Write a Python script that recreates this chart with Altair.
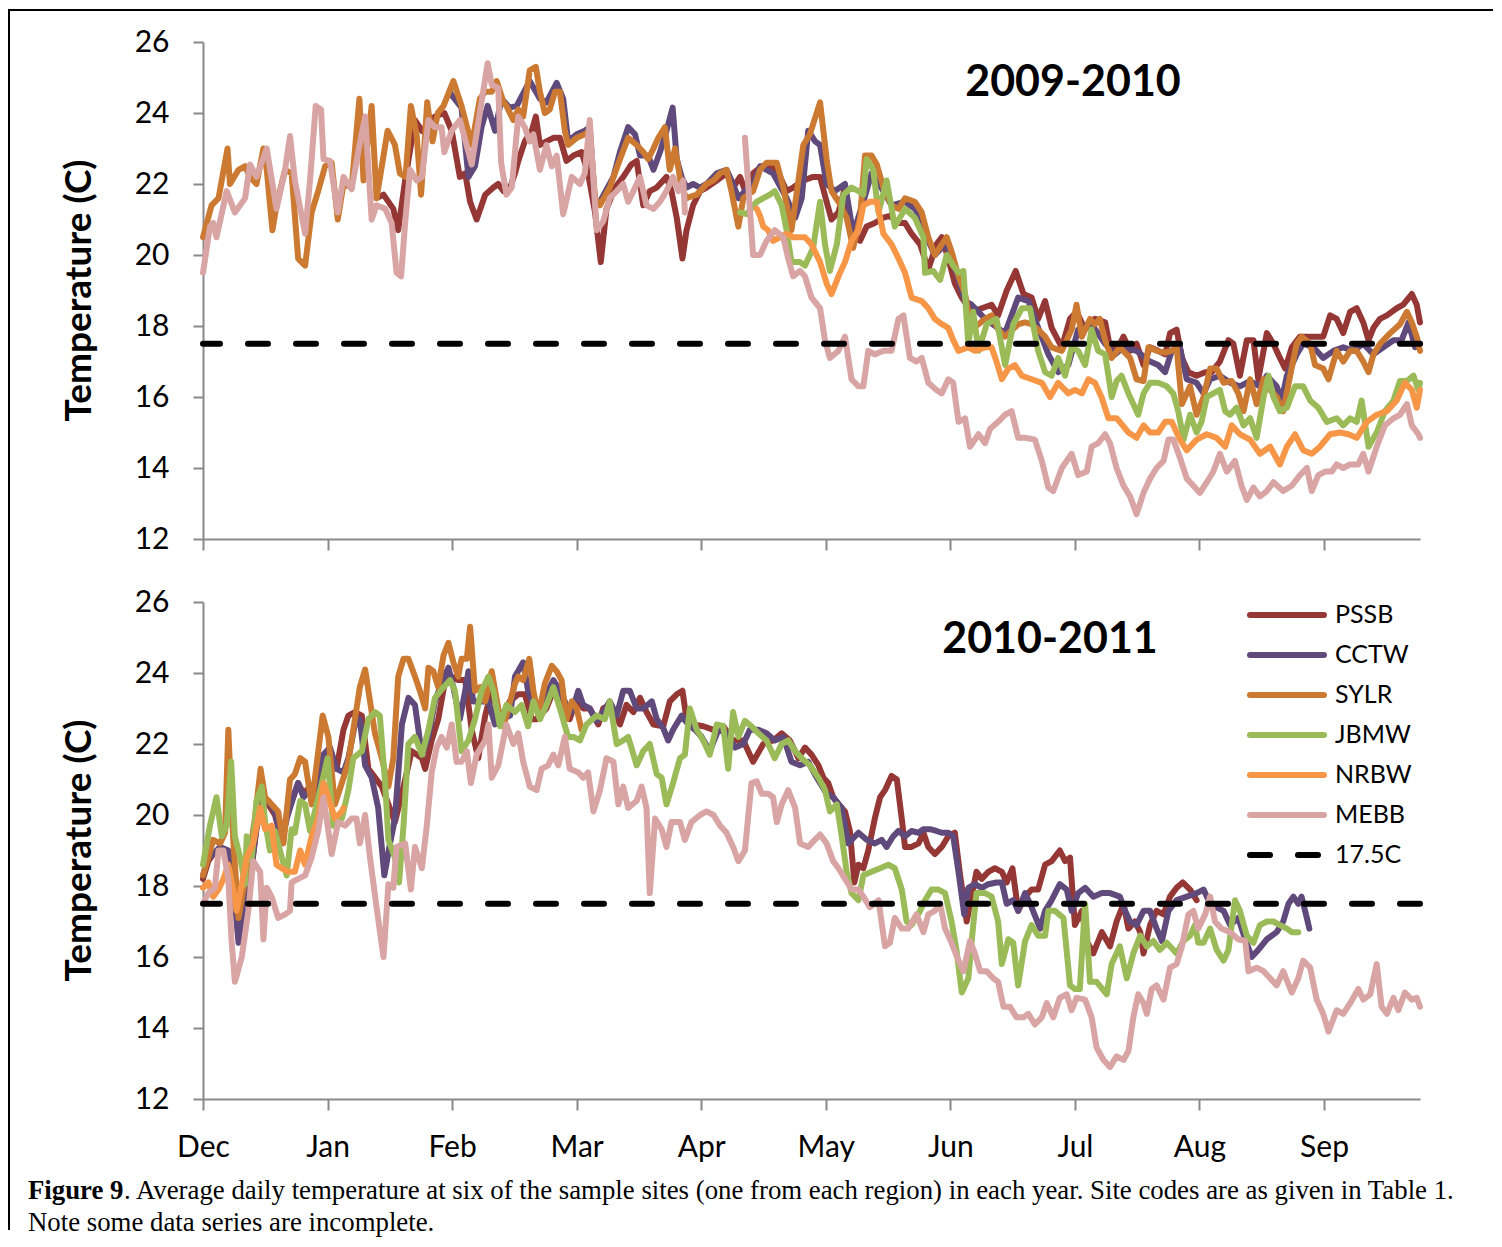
import json
import altair as alt
import pandas as pd

# ---------------- categories / styling lists ----------------
SERIES = ["PSSB", "CCTW", "SYLR", "JBMW", "NRBW", "MEBB", "17.5C"]
COLORS = ["#953735", "#604A7B", "#CC7A32", "#9BBB59", "#F79646", "#D8A5A4", "#000000"]
DASHES = [[1, 0]] * 6 + [[20, 28]]
MONTHS = ["Dec", "Jan", "Feb", "Mar", "Apr", "May", "Jun", "Jul", "Aug", "Sep"]
DAYS_PER_TICK = 30.5
X_MAX = 298
THRESHOLD = 17.5
Y_TICKS = [12, 14, 16, 18, 20, 22, 24, 26]

# ---------------- 2009-2010 (day since 1 Dec, deg C) ----------------
PSSB_09 = [(42.5,21.6),(44.2,21.7),(46.6,21.3),(47.8,20.7),(49.5,22.1),(51.9,23.8),(53.6,23.5),(56.8,23.9),(59.1,24.0),(60.9,23.5),(62.9,22.2),(64.2,22.3),(65.4,21.5),(67.0,21.0),(69.1,21.7),(71.1,21.9),(72.3,22.0),(73.6,21.8),(75.2,21.9),(76.4,22.3),(77.2,22.65),(78.8,23.2),(80.5,23.5),(81.5,23.9),(82.5,23.1),(84.1,23.2),(85.8,23.3),(87.4,23.3),(89.0,22.65),(90.7,22.8),(92.7,22.9),(94.3,22.3),(96.0,21.2),(97.4,19.8),(98.8,21.3),(100.9,21.9),(102.9,22.2),(104.9,22.55),(106.2,22.65),(107.8,21.4),(109.4,21.8),(111.1,21.9),(113.5,22.2),(114.7,21.8),(116.0,21.05),(117.4,19.9),(118.4,20.7),(120.0,21.4),(121.7,21.8),(123.3,21.9),(125.8,22.1),(128.2,22.3),(129.8,21.9),(131.5,22.2),(133.1,21.7),(134.7,22.3),(136.8,22.5),(138.8,22.5),(140.5,22.4),(142.9,21.8),(144.5,21.9),(147.0,22.1),(149.4,22.2),(151.1,22.2),(152.7,21.5),(153.9,21.0),(155.6,21.2),(157.2,21.9),(158.8,20.5),(160.9,20.4),(162.5,20.8),(164.5,20.9),(166.6,21.05),(168.2,21.1),(170.3,20.9),(171.9,20.9),(173.5,20.6),(175.6,20.3),(177.6,19.6),(179.6,20.3),(180.9,20.5),(182.5,19.9),(184.1,19.2),(185.8,18.8),(188.2,18.4),(190.7,18.5),(193.1,18.6),(194.7,18.3),(196.8,19.0),(199.0,19.55),(200.9,18.9),(202.9,18.8),(204.5,18.2),(206.2,18.7),(207.8,17.95),(210.3,17.4),(212.3,18.2),(213.9,18.4),(216.0,17.9),(218.4,18.2),(220.9,18.1),(222.1,17.4),(223.7,17.3),(225.4,17.7),(227.0,17.3),(228.6,17.5),(230.3,16.9),(231.9,17.4),(233.9,17.3),(235.6,17.2),(236.8,17.8),(238.4,17.9),(239.7,17.1),(241.3,16.7),(243.3,16.6),(245.4,16.7),(247.0,16.7),(249.0,17.0),(251.1,17.6),(252.3,17.5),(253.9,16.6),(255.6,17.6),(257.2,17.6),(258.4,16.5),(260.5,17.8),(262.1,17.5),(263.7,17.1),(265.0,16.8),(266.6,17.4),(268.6,17.7),(271.1,17.7),(274.3,17.7),(276.0,18.3),(277.6,18.2),(279.2,17.8),(280.9,18.4),(282.5,18.5),(284.1,18.1),(285.4,17.6),(286.6,17.95),(288.2,18.2),(289.9,18.3),(292.3,18.5),(293.9,18.6),(296.0,18.9),(297.2,18.6),(298.0,18.1)]
CCTW_09 = [(60.5,24.6),(60.9,24.5),(63.3,24.15),(65.0,22.2),(66.6,22.5),(68.2,23.6),(69.7,24.2),(71.5,23.5),(73.1,24.4),(75.1,24.15),(76.8,24.2),(80.0,24.9),(82.5,24.4),(84.1,24.3),(86.6,24.85),(88.2,24.4),(89.4,23.2),(91.5,23.4),(93.5,23.5),(94.7,23.6),(96.0,21.4),(97.2,21.5),(100.5,22.2),(102.1,22.9),(104.1,23.6),(105.8,23.4),(107.0,22.8),(109.0,22.8),(110.3,22.4),(111.9,22.9),(113.5,23.5),(115.0,24.15),(116.0,22.7),(117.2,22.2),(118.4,21.9),(120.0,22.0),(121.7,21.9),(123.3,22.0),(125.8,22.3),(128.2,22.4),(129.8,22.0),(131.1,21.6),(132.7,21.8),(134.7,22.0),(136.4,22.5),(138.0,22.4),(139.6,22.3),(142.9,21.6),(145.0,21.05),(146.6,21.6),(148.2,23.5),(149.9,23.2),(151.1,23.1),(152.7,22.0),(154.7,21.8),(157.2,22.0),(159.2,20.6),(161.7,21.5),(163.7,22.3),(166.6,21.8),(168.6,21.4),(171.9,21.5),(174.3,21.3),(176.0,21.0),(177.6,20.4),(179.2,20.0),(181.7,20.3),(183.3,20.0),(185.0,19.3),(186.6,18.7),(188.2,18.6),(191.5,18.2),(196.4,17.8),(199.6,18.8),(202.1,18.7),(204.5,17.95),(207.0,17.2),(209.4,16.7),(211.9,16.9),(214.3,17.9),(217.6,18.05),(220.9,17.5),(223.3,17.2),(225.4,17.4),(228.6,17.3),(231.9,17.0),(233.9,16.9),(235.6,16.7),(237.2,17.3),(239.2,17.4),(240.9,16.5),(243.3,16.4),(245.0,16.1),(246.6,16.5),(249.0,16.6),(251.5,16.4),(253.9,16.3),(256.4,16.45),(258.8,16.3),(260.5,16.6),(262.9,16.3),(264.1,15.9),(265.4,16.6),(267.8,17.2),(269.4,17.5),(271.9,17.4),(274.3,17.1),(276.8,17.3),(279.2,17.4),(281.7,17.3),(284.1,17.5),(286.6,17.2),(289.0,17.4),(291.5,17.6),(293.5,17.6),(295.2,18.1),(296.8,17.4),(298.0,17.5)]
SYLR_09 = [(0,20.5),(2.1,21.4),(3.8,21.6),(6.0,23.0),(6.6,22.0),(8.7,22.4),(10.3,22.5),(11.5,22.2),(13.1,22.0),(14.8,23.0),(15.6,22.4),(17.0,20.7),(18.0,21.4),(20.1,22.4),(21.7,22.3),(23.3,19.9),(25.0,19.7),(26.6,21.2),(28.2,21.8),(29.9,22.5),(31.5,22.6),(33.0,21.0),(34.4,22.0),(36.4,21.9),(38.3,24.4),(39.3,22.1),(41.3,24.2),(42.5,21.6),(45.2,23.5),(47.0,23.1),(48.2,22.3),(49.6,22.2),(50.9,24.2),(52.3,23.4),(53.4,21.7),(54.9,24.3),(56.2,23.2),(57.5,24.0),(58.9,24.2),(61.3,24.9),(63.3,24.2),(65.8,23.1),(67.8,24.4),(69.1,24.6),(70.7,24.6),(71.9,24.9),(73.6,24.3),(74.3,24.2),(76.0,23.8),(77.2,24.1),(78.4,23.9),(80.0,25.2),(81.5,25.3),(82.5,24.6),(83.7,24.0),(84.9,24.1),(86.2,24.6),(87.4,24.6),(88.6,23.5),(89.4,23.1),(91.5,23.3),(93.5,23.4),(94.7,23.5),(96.0,21.6),(97.2,21.4),(99.6,21.9),(102.1,22.7),(104.1,23.3),(106.2,23.1),(107.8,22.9),(109.0,22.7),(110.3,23.0),(111.5,23.3),(113.1,23.6),(114.3,22.4),(115.6,23.0),(117.2,21.9),(118.4,21.6),(120.9,21.7),(123.3,22.0),(125.0,22.1),(126.6,22.3),(128.2,22.4),(129.4,21.8),(131.1,20.8),(132.3,21.6),(134.7,21.8),(136.4,22.4),(138.0,22.6),(140.5,22.6),(142.1,21.9),(144.1,20.7),(145.8,22.1),(147.0,23.1),(148.6,23.4),(151.1,24.3),(152.7,22.7),(153.9,21.8),(155.6,21.5),(157.6,21.05),(159.2,20.2),(160.9,21.05),(162.1,22.8),(163.7,22.8),(165.0,22.55),(166.6,21.9),(168.6,21.4),(170.3,21.3),(171.9,21.6),(174.3,21.5),(176.0,21.2),(177.6,20.5),(179.2,20.0),(180.9,20.3),(182.1,20.5),(183.3,20.1),(185.0,19.4),(186.6,18.9),(188.2,17.9),(189.9,18.05),(191.5,18.2),(193.1,18.3),(194.7,17.9),(196.4,17.7),(199.6,18.05),(201.3,18.1),(202.9,18.05),(204.5,17.9),(206.2,17.7),(207.8,17.4),(210.3,17.3),(212.7,17.9),(213.9,18.6),(215.2,17.7),(217.2,18.2),(218.4,18.05),(219.6,18.2),(220.9,17.6),(222.5,17.1),(224.5,17.4),(227.0,17.1),(228.6,16.5),(230.3,16.45),(231.5,17.4),(233.5,17.3),(235.6,17.25),(237.2,17.3),(238.4,17.4),(239.7,15.8),(241.7,16.3),(243.3,15.5),(245.0,16.0),(246.6,16.8),(248.2,16.8),(249.9,16.4),(251.9,16.45),(253.5,16.1),(254.8,15.6),(256.4,16.5),(258.0,15.8),(259.7,16.5),(261.3,16.2),(262.9,16.0),(264.5,15.6),(266.2,16.6),(267.8,17.5),(269.0,17.7),(271.1,17.5),(272.3,16.9),(274.3,16.8),(275.6,16.5),(277.6,17.3),(279.2,17.0),(280.9,17.3),(282.5,17.3),(284.1,17.0),(285.4,16.7),(286.6,17.2),(288.2,17.5),(290.7,17.8),(293.1,18.05),(294.8,18.4),(296.0,18.1),(297.2,17.7),(298.0,17.3)]
JBMW_09 = [(131.5,21.2),(133.1,21.15),(135.6,21.5),(137.2,21.6),(138.8,21.7),(140.0,21.8),(141.7,21.4),(142.9,20.7),(144.1,19.8),(146.2,19.8),(147.4,19.7),(149.4,20.2),(151.1,21.5),(152.3,20.3),(153.5,19.55),(155.2,20.3),(156.8,21.7),(158.8,21.9),(160.5,21.8),(161.7,21.7),(162.5,22.7),(164.1,22.4),(165.4,21.2),(167.4,22.1),(169.4,20.8),(171.9,21.3),(174.3,21.05),(176.4,20.5),(176.8,19.5),(178.8,19.55),(180.5,19.3),(182.1,20.0),(183.7,19.7),(185.0,19.5),(186.2,19.55),(187.4,17.5),(188.6,18.4),(189.9,17.3),(191.9,18.05),(194.3,18.2),(196.4,16.9),(198.4,18.05),(200.5,18.5),(202.5,18.5),(204.5,17.3),(206.2,16.7),(207.8,16.6),(209.4,17.1),(211.1,16.6),(212.7,17.4),(214.3,17.3),(216.0,16.9),(217.6,17.9),(219.2,17.3),(220.9,17.2),(222.5,16.0),(223.7,16.45),(224.9,16.6),(226.6,16.1),(227.8,15.8),(229.0,15.5),(230.3,16.1),(231.9,16.4),(233.9,16.4),(236.0,16.3),(237.6,16.1),(238.8,15.6),(240.1,14.8),(241.7,15.5),(243.3,15.0),(244.5,15.3),(245.8,16.0),(247.4,16.1),(249.0,16.2),(250.3,15.6),(251.5,15.5),(253.1,15.7),(254.8,15.2),(256.4,15.4),(258.0,14.85),(259.7,16.0),(260.9,16.6),(262.1,16.0),(263.7,15.6),(265.4,15.7),(267.4,16.3),(269.4,16.3),(271.1,15.9),(273.1,15.7),(275.2,15.3),(277.6,15.4),(279.2,15.2),(280.9,15.4),(282.5,15.3),(283.7,15.9),(285.4,14.6),(287.4,15.0),(289.4,15.6),(291.5,15.9),(293.1,16.45),(294.8,16.45),(296.4,16.6),(297.6,16.2),(298.0,16.4)]
NRBW_09 = [(135.6,21.3),(136.4,21.1),(137.2,20.8),(138.4,20.7),(139.6,20.4),(141.3,20.5),(142.9,20.6),(144.5,20.5),(146.2,20.5),(147.4,20.5),(149.0,20.3),(151.1,19.8),(152.7,19.2),(153.9,18.9),(155.6,19.4),(157.2,19.8),(158.8,20.4),(160.5,20.7),(161.7,21.4),(163.3,21.5),(165.0,21.5),(166.6,20.6),(168.6,20.3),(170.3,19.9),(171.9,19.5),(173.5,18.8),(176.0,18.7),(177.6,18.5),(179.2,18.2),(180.9,18.05),(182.5,17.95),(183.7,17.6),(185.0,17.3),(187.4,17.4),(189.0,17.3),(191.5,17.4),(193.1,17.4),(194.3,17.0),(195.6,16.5),(197.2,16.8),(198.8,16.9),(200.5,16.6),(202.9,16.5),(205.4,16.4),(207.4,16.0),(209.4,16.4),(211.9,16.1),(213.5,16.2),(215.2,16.1),(216.8,16.5),(218.4,16.4),(220.0,16.0),(221.7,15.4),(223.7,15.4),(224.5,15.3),(226.6,15.0),(228.6,14.85),(230.3,15.2),(231.9,15.0),(233.9,15.0),(235.6,15.3),(237.2,15.3),(239.2,14.8),(240.9,14.5),(243.3,14.8),(245.8,14.95),(248.2,14.85),(250.3,14.6),(251.9,15.2),(253.9,14.95),(256.4,14.8),(258.8,14.4),(261.3,14.6),(263.7,14.1),(265.4,14.6),(267.4,14.95),(269.4,14.5),(271.5,14.4),(273.5,14.6),(276.0,14.95),(278.4,15.0),(280.5,14.95),(282.5,14.85),(285.0,15.3),(287.4,15.5),(289.9,15.6),(292.3,15.9),(294.3,16.4),(296.0,16.2),(297.2,15.7),(298.0,16.2)]
MEBB_09A = [(0,19.5),(1.7,20.8),(2.5,20.9),(3.3,20.5),(5.8,21.8),(7.8,21.2),(10.3,21.6),(11.5,22.55),(13.1,22.2),(15.6,23.0),(18.0,21.3),(20.1,22.4),(21.3,23.35),(22.5,22.1),(25.0,20.6),(26.2,22.1),(27.6,24.2),(28.9,24.1),(29.5,22.7),(31.1,22.65),(33.0,21.2),(34.4,22.2),(36.4,21.85),(38.0,22.9),(39.7,23.9),(41.3,21.0),(42.5,21.4),(44.6,21.3),(46.2,20.9),(47.4,19.5),(48.5,19.4),(49.6,21.05),(50.7,22.4),(52.3,22.1),(53.6,22.2),(55.2,23.8),(56.8,23.6),(58.4,23.6),(59.1,22.9),(60.9,23.5),(62.9,23.8),(65.8,22.55),(68.2,24.3),(69.7,25.4),(70.7,24.8),(72.3,24.7),(73.0,22.6),(74.3,21.7),(75.6,21.9),(77.2,23.9),(78.8,23.6),(80.0,23.2),(80.9,23.4),(82.5,22.4),(84.1,23.1),(85.4,22.5),(86.6,22.8),(88.2,21.15),(90.3,22.2),(92.3,22.0),(93.5,22.3),(94.7,23.8),(96.4,20.7),(98.0,20.95),(99.6,21.6),(101.3,21.8),(102.9,22.0),(104.1,21.5),(105.4,21.8),(107.0,22.2),(108.6,21.4),(110.3,21.3),(111.9,21.5),(113.5,21.8),(115.1,22.2),(116.4,21.8),(117.6,22.1),(118.0,21.2)]
MEBB_09B = [(132.7,23.3),(134.7,20.0),(136.4,20.0),(138.0,20.4),(140.0,20.7),(142.1,20.5),(143.3,19.9),(144.5,19.4),(146.2,19.55),(147.4,19.4),(149.0,18.8),(151.1,18.5),(152.3,17.6),(153.5,17.1),(155.6,17.3),(157.2,17.7),(158.8,16.5),(160.5,16.3),(161.7,16.3),(162.9,17.3),(164.5,17.2),(166.6,17.3),(168.6,17.3),(170.3,18.2),(171.5,18.3),(172.3,17.7),(173.1,17.1),(174.7,17.0),(176.0,17.1),(177.6,16.4),(179.6,16.2),(180.9,16.1),(182.5,16.5),(183.7,16.4),(185.0,15.3),(186.6,15.4),(187.8,14.6),(189.9,14.95),(191.5,14.7),(192.7,15.1),(194.7,15.3),(196.4,15.5),(198.0,15.6),(199.6,14.85),(201.3,14.85),(203.7,14.8),(205.4,14.2),(207.0,13.45),(208.2,13.35),(210.3,14.0),(212.7,14.4),(214.3,13.8),(216.4,13.9),(217.6,14.6),(219.2,14.7),(220.9,14.95),(222.1,14.7),(223.7,14.0),(225.4,13.5),(227.0,13.2),(228.6,12.7),(230.3,13.3),(231.9,13.7),(233.5,14.0),(235.2,14.2),(236.4,14.8),(237.6,14.8),(239.2,14.3),(240.9,13.7),(242.5,13.5),(244.1,13.3),(245.8,13.6),(247.4,13.9),(249.0,14.4),(250.7,13.9),(252.7,14.2),(254.3,13.5),(255.6,13.1),(257.2,13.45),(258.8,13.2),(260.5,13.35),(262.1,13.6),(264.5,13.35),(266.6,13.5),(268.6,13.8),(270.3,14.0),(271.5,13.35),(273.1,13.8),(274.8,13.9),(276.4,13.9),(277.6,14.1),(279.2,14.0),(280.9,14.1),(282.9,14.1),(284.1,14.4),(285.4,13.9),(287.4,14.6),(289.4,15.2),(291.5,15.4),(293.1,15.5),(294.8,15.8),(296.0,15.2),(297.6,14.95),(298.0,14.85)]

# ---------------- 2010-2011 ----------------
PSSB_10 = [(0,18.2),(1.3,18.7),(2.5,18.9),(4.2,19.0),(6.2,18.9),(7.4,18.0),(8.7,16.6),(9.9,17.3),(11.5,18.2),(13.1,19.6),(14.4,20.4),(16.0,20.3),(17.6,20.0),(19.3,19.3),(20.5,20.0),(22.1,20.5),(23.3,20.9),(24.6,20.6),(26.2,20.8),(27.8,20.6),(29.5,21.6),(31.1,21.7),(32.7,21.3),(34.4,22.4),(35.6,22.8),(37.2,22.9),(38.9,22.8),(40.5,21.3),(43.8,20.8),(47.0,19.8),(48.7,20.6),(51.1,21.8),(53.6,21.6),(54.4,21.3),(56.0,22.1),(57.6,22.7),(59.3,23.8),(60.9,23.9),(62.5,23.8),(64.2,23.8),(65.8,22.4),(67.4,21.6),(69.1,22.8),(70.7,23.5),(72.7,22.7),(75.1,23.2),(77.2,23.4),(78.8,23.4),(80.5,22.7),(81.7,22.7),(84.1,23.0),(85.8,23.5),(87.8,23.3),(89.8,22.7),(91.5,23.3),(93.1,23.0),(94.7,23.0),(96.8,22.55),(98.0,23.0),(99.6,23.1),(102.1,22.55),(103.7,23.1),(105.4,22.9),(107.0,23.3),(108.6,22.9),(110.3,22.55),(112.7,22.5),(114.3,23.2),(116.0,23.4),(117.4,23.5),(118.4,22.7),(120.0,22.55),(122.5,22.5),(125.0,22.4),(127.4,22.5),(129.8,22.1),(132.3,22.1),(134.7,21.5),(137.2,22.0),(139.6,22.1),(141.7,22.3),(143.7,22.1),(145.8,21.6),(147.4,21.9),(149.0,21.7),(150.7,21.4),(151.9,21.05),(153.1,20.9),(154.3,20.5),(155.6,20.3),(157.2,20.1),(158.4,19.55),(159.5,18.1),(160.5,18.6),(161.7,18.5),(162.9,19.0),(164.5,19.9),(165.8,20.5),(167.0,20.7),(168.6,21.1),(169.9,21.0),(171.1,19.9),(171.9,19.1),(173.5,19.1),(175.2,19.2),(176.4,19.5),(177.6,19.1),(179.2,18.9),(180.9,19.1),(182.5,19.4),(184.1,19.5),(185.4,18.3),(187.0,17.0),(188.2,17.7),(189.4,18.4),(190.7,18.2),(192.3,18.4),(193.9,18.5),(195.6,18.4),(196.8,18.1),(198.2,18.5),(199.6,17.3),(201.3,17.7),(202.9,17.9),(204.5,17.9),(206.2,18.6),(207.8,18.7),(209.8,19.0),(211.1,18.7),(212.3,18.8),(213.5,16.9),(215.2,17.3),(216.4,16.45),(218.0,16.1),(220.1,16.7),(222.1,16.3),(223.7,17.0),(225.4,17.5),(226.6,16.8),(228.2,17.0),(229.5,16.7),(230.3,16.1),(231.9,16.9),(233.5,17.3),(235.2,17.2),(236.8,17.7),(238.4,17.95),(239.9,18.1),(241.7,17.9),(243.3,17.6)]
CCTW_10 = [(0,18.3),(1.3,18.8),(2.5,18.9),(4.2,19.1),(6.2,19.0),(7.4,18.1),(8.7,16.4),(9.9,17.1),(11.5,18.1),(13.1,19.7),(14.4,20.5),(16.0,20.4),(17.6,20.1),(19.3,19.2),(20.5,19.9),(22.1,20.5),(23.3,20.9),(24.6,20.5),(26.2,20.7),(27.8,20.5),(29.5,21.7),(31.1,21.9),(32.7,21.3),(34.4,21.2),(35.6,21.6),(37.2,22.55),(38.4,22.7),(39.7,21.4),(41.3,21.05),(42.9,20.2),(44.4,18.3),(45.8,19.2),(47.0,19.9),(48.7,22.55),(50.3,23.3),(51.9,23.1),(53.6,21.7),(55.2,22.2),(56.8,23.2),(58.4,23.7),(60.1,24.15),(61.3,23.6),(62.9,22.7),(64.2,23.5),(65.0,24.05),(66.2,23.2),(68.2,23.2),(69.9,23.2),(71.5,22.55),(73.1,22.7),(75.2,22.8),(76.4,23.9),(78.4,24.3),(79.6,23.5),(80.9,23.1),(82.5,22.9),(84.1,23.4),(85.8,23.8),(87.4,23.5),(89.0,23.1),(90.3,22.9),(91.9,23.5),(93.1,23.1),(94.7,23.0),(96.4,22.65),(98.0,22.9),(99.6,23.2),(101.3,22.8),(102.9,23.5),(104.5,23.5),(106.2,23.0),(107.8,23.0),(109.9,23.2),(111.1,22.7),(112.7,22.45),(113.9,22.1),(115.1,22.4),(117.2,22.8),(118.8,22.55),(120.5,22.4),(122.1,22.2),(124.1,21.8),(126.2,22.4),(128.2,22.3),(130.3,21.9),(132.3,22.0),(133.9,22.4),(136.0,22.4),(138.0,22.3),(140.0,22.1),(142.1,22.2),(144.1,21.5),(146.2,21.4),(148.2,21.5),(149.8,21.15),(151.1,20.9),(152.7,20.6),(154.3,20.5),(156.4,20.2),(158.0,19.2),(160.5,19.5),(162.5,19.3),(164.5,19.2),(166.2,19.3),(167.4,19.1),(169.0,19.4),(170.3,19.55),(171.9,19.4),(173.5,19.55),(175.2,19.5),(176.4,19.6),(178.0,19.6),(179.6,19.55),(180.9,19.5),(182.5,19.5),(183.7,19.4),(185.0,18.4),(186.4,17.2),(187.4,17.95),(189.0,18.05),(190.7,17.95),(192.3,18.05),(194.3,18.1),(195.6,18.1),(196.8,17.5),(198.4,17.6),(199.6,17.3),(201.3,17.8),(202.9,17.4),(205.0,16.8),(206.2,17.3),(207.8,17.6),(209.8,18.05),(211.5,17.9),(212.7,17.3),(214.3,17.8),(216.0,17.95),(218.0,17.7),(220.1,17.8),(222.1,17.8),(224.5,17.7),(225.8,17.3),(227.0,17.0),(228.6,16.9),(230.3,17.3),(231.9,17.3),(233.5,16.8),(234.8,16.45),(236.4,17.3),(238.4,17.6),(240.9,17.7),(243.3,17.8),(245.0,17.9),(246.6,17.5),(248.2,17.4),(249.9,17.3),(251.5,16.9),(253.5,17.1),(255.2,16.5),(256.8,16.0),(258.4,16.2),(260.5,16.5),(262.9,16.7),(264.5,17.0),(265.8,17.5),(267.0,17.7),(268.2,17.5),(269.0,17.7),(270.3,17.1),(270.9,16.8)]
SYLR_10 = [(0,18.3),(1.3,18.8),(2.5,19.3),(4.2,19.2),(5.4,19.5),(6.2,22.4),(7.4,19.3),(8.7,17.1),(9.9,17.9),(11.1,18.6),(12.7,19.9),(14.1,21.3),(15.2,20.5),(16.8,20.3),(18.4,20.1),(19.7,19.2),(21.3,21.0),(22.5,21.15),(23.8,21.6),(25.0,21.5),(26.6,20.3),(27.8,21.4),(29.3,22.8),(30.7,22.2),(32.3,20.3),(34.0,20.9),(35.6,21.5),(37.2,22.7),(38.4,23.6),(39.7,24.1),(40.9,23.2),(42.1,22.3),(43.8,21.6),(45.4,20.8),(46.6,21.6),(47.8,23.9),(49.1,24.4),(50.3,24.4),(51.9,23.9),(53.1,23.5),(54.4,23.0),(55.2,24.15),(56.4,24.05),(57.6,23.6),(58.9,24.5),(60.1,24.85),(61.3,24.3),(62.5,23.9),(63.3,24.4),(64.6,24.4),(65.4,25.3),(66.6,23.5),(67.8,23.6),(69.1,23.2),(70.7,24.05),(72.3,23.0),(73.6,22.5),(75.2,23.2),(76.4,23.7),(77.2,23.9),(78.4,23.8),(79.9,24.4),(80.9,23.5),(82.1,22.8),(83.7,23.7),(85.4,24.2),(86.6,24.05),(87.8,23.8),(89.0,22.7),(90.3,23.2),(91.5,23.0),(92.7,22.4)]
JBMW_10 = [(0,18.6),(1.7,19.7),(3.3,20.5),(4.6,19.4),(5.8,19.7),(6.9,21.5),(7.8,19.4),(9.1,18.8),(10.3,18.05),(10.7,19.4),(11.9,18.7),(13.1,20.4),(14.4,20.8),(15.2,19.8),(16.4,19.0),(17.6,19.55),(19.3,18.8),(20.5,18.3),(21.7,19.6),(22.5,19.5),(23.8,20.4),(25.0,20.3),(26.2,19.55),(27.4,20.1),(29.1,20.9),(30.5,21.6),(31.9,19.7),(34.0,19.9),(35.6,20.7),(36.8,21.6),(38.9,21.8),(40.5,22.7),(42.1,22.9),(43.3,22.8),(44.6,20.9),(45.4,19.3),(47.0,18.8),(48.0,18.1),(49.1,19.7),(50.3,22.0),(51.9,22.2),(53.6,21.7),(55.2,22.4),(56.8,23.3),(58.9,23.6),(60.5,23.8),(61.7,23.5),(63.3,21.8),(65.0,22.1),(66.6,22.7),(68.2,23.5),(69.9,23.9),(71.1,23.5),(72.7,22.5),(74.3,23.1),(76.4,22.9),(78.0,23.1),(79.6,22.5),(80.9,23.2),(82.5,22.7),(84.1,23.1),(85.8,23.6),(87.4,23.0),(89.4,22.2),(90.7,22.2),(92.3,22.1),(93.9,22.55),(96.4,22.8),(98.4,22.7),(99.6,23.2),(101.3,22.0),(102.9,22.1),(104.1,22.2),(106.2,21.4),(107.8,21.8),(109.4,22.0),(111.1,21.15),(112.3,21.05),(113.5,20.3),(115.1,20.9),(116.8,21.6),(118.0,21.7),(119.2,23.0),(120.9,22.4),(122.5,22.1),(124.1,21.7),(125.8,22.55),(127.4,22.5),(128.6,21.3),(129.8,22.9),(131.1,22.2),(132.7,22.65),(134.3,22.5),(136.0,22.3),(138.0,22.1),(140.0,21.6),(141.7,22.0),(143.3,22.1),(145.0,21.8),(146.6,21.6),(148.6,21.4),(150.7,21.05),(152.3,20.7),(153.5,20.1),(155.2,20.3),(156.4,19.4),(157.6,18.4),(158.8,17.8),(160.5,17.6),(161.7,18.3),(163.7,18.4),(165.8,18.5),(167.8,18.6),(169.4,18.5),(171.1,17.9),(172.3,17.0),(173.5,16.9),(175.6,17.3),(176.8,17.6),(178.4,17.9),(180.1,17.9),(181.7,17.8),(183.3,17.0),(184.5,16.2),(185.8,15.0),(187.4,15.4),(188.6,16.9),(189.4,17.8),(191.5,17.8),(193.1,17.7),(194.7,17.0),(195.6,15.8),(197.2,16.5),(198.4,16.4),(199.6,15.2),(201.3,16.45),(202.9,16.9),(204.5,16.6),(206.2,16.6),(207.0,17.3),(208.6,17.3),(210.7,17.1),(212.3,15.2),(213.5,15.1),(214.7,15.1),(216.0,17.5),(217.2,15.3),(218.8,15.3),(221.3,14.95),(222.5,15.8),(224.5,16.3),(226.2,15.4),(227.8,16.1),(229.5,16.6),(231.1,16.3),(232.7,16.45),(234.3,16.2),(236.0,16.4),(238.4,16.1),(240.1,16.45),(241.7,16.6),(242.9,16.9),(243.7,16.4),(245.0,16.4),(246.6,16.8),(248.2,16.2),(249.9,15.9),(251.1,16.2),(252.7,17.6),(253.9,17.3),(255.6,16.6),(257.2,16.4),(258.8,16.9),(260.5,17.0),(262.1,17.0),(263.7,16.9),(265.4,16.8),(266.6,16.7),(268.2,16.7)]
NRBW_10 = [(0,17.95),(1.3,18.1),(2.5,17.7),(3.8,17.9),(5.0,18.2),(6.2,18.6),(7.4,17.9),(8.2,17.3),(9.5,18.05),(10.7,18.8),(12.3,19.2),(14.0,20.2),(15.2,19.6),(16.8,19.7),(18.0,18.6),(19.3,18.5),(20.9,18.4),(22.5,18.4),(23.8,19.0),(25.0,18.6),(26.6,19.4),(28.2,19.9),(29.5,20.9),(30.7,20.5),(32.3,19.9),(34.0,20.1),(34.4,20.2)]
MEBB_10 = [(0,17.5),(1.3,17.8),(2.9,17.95),(3.8,19.0),(5.0,19.0),(6.2,18.2),(7.0,16.45),(7.8,15.3),(9.5,16.0),(11.1,17.3),(12.3,18.7),(14.0,18.4),(14.8,16.5),(15.6,17.95),(16.8,17.7),(18.4,17.1),(20.1,17.2),(21.3,17.3),(21.7,18.1),(23.3,18.2),(25.0,18.3),(26.6,18.8),(28.2,19.55),(29.5,20.5),(30.7,19.55),(31.5,18.9),(33.1,19.8),(34.8,19.7),(36.4,19.9),(37.6,19.9),(38.4,19.2),(39.7,20.0),(40.9,18.8),(42.5,17.4),(44.2,16.0),(45.4,18.05),(46.6,17.95),(47.4,19.1),(49.5,19.2),(50.9,17.9),(51.9,19.1),(53.6,18.5),(54.8,19.7),(56.0,21.2),(57.2,21.9),(58.4,22.2),(59.7,21.9),(60.9,22.55),(62.1,21.5),(63.3,21.5),(64.6,21.8),(65.6,20.9),(67.0,21.7),(69.1,22.1),(69.9,22.55),(70.7,21.05),(72.3,21.4),(74.3,22.55),(76.0,22.0),(77.2,22.3),(78.4,21.5),(80.0,20.8),(81.7,20.7),(82.9,21.3),(84.5,21.4),(85.8,21.7),(87.0,21.4),(88.6,22.2),(89.8,21.3),(91.9,21.2),(93.1,21.05),(94.3,21.2),(95.6,20.1),(97.2,20.7),(98.8,21.6),(100.5,21.5),(101.7,20.3),(102.9,20.8),(104.1,20.2),(106.2,20.4),(107.4,20.8),(108.6,20.2),(109.4,17.8),(110.7,19.9),(112.3,19.6),(113.5,19.1),(114.7,19.8),(116.8,19.8),(118.0,19.3),(119.6,19.8),(121.7,20.0),(123.3,20.1),(125.0,20.0),(126.6,19.7),(128.2,19.5),(129.8,19.1),(131.1,18.7),(132.7,19.0),(134.3,20.9),(135.6,20.95),(136.8,20.6),(138.4,20.6),(139.6,20.5),(140.5,19.8),(141.7,20.3),(143.3,20.7),(145.0,20.2),(146.2,19.2),(148.2,19.1),(149.8,19.3),(151.1,19.45),(152.7,19.2),(154.3,18.7),(155.6,18.5),(157.2,18.2),(158.8,17.9),(160.5,17.9),(161.7,17.7),(163.3,17.4),(165.4,17.6),(167.0,16.3),(168.2,16.4),(169.4,17.1),(171.1,16.8),(172.7,16.8),(174.7,17.2),(176.4,16.7),(177.6,17.2),(179.2,17.3),(180.5,17.5),(181.7,16.8),(183.3,16.4),(185.0,15.9),(186.2,15.6),(187.8,16.45),(189.0,16.1),(190.3,15.6),(191.9,15.6),(193.5,15.4),(194.7,15.3),(196.0,14.6),(197.6,14.6),(199.2,14.3),(200.9,14.3),(202.1,14.4),(203.7,14.1),(205.4,14.3),(206.6,14.7),(208.2,14.3),(209.8,14.85),(211.5,14.95),(212.7,14.5),(213.9,14.85),(216.0,14.8),(217.6,14.3),(218.8,13.45),(220.5,13.1),(222.1,12.9),(223.7,13.2),(225.4,13.1),(226.6,13.35),(227.8,14.3),(229.0,14.95),(230.3,14.7),(231.1,14.4),(232.3,15.1),(233.5,15.2),(235.2,14.8),(236.8,15.7),(238.4,15.8),(239.7,16.3),(241.3,17.2),(242.5,17.3),(243.7,16.8),(245.4,17.2),(246.6,17.7),(247.8,17.0),(249.4,16.8),(251.5,16.7),(253.5,16.5),(255.2,16.45),(256.0,15.6),(258.0,15.7),(259.7,15.6),(261.3,15.4),(262.9,15.2),(264.5,15.6),(266.6,15.0),(268.2,15.4),(269.4,15.9),(271.1,15.7),(272.7,14.8),(274.3,14.4),(275.6,13.9),(277.6,14.5),(279.2,14.4),(280.9,14.7),(282.9,15.1),(284.1,14.8),(285.8,14.95),(287.4,15.8),(288.6,14.6),(289.9,14.4),(291.5,14.85),(292.7,14.5),(294.3,15.0),(296.0,14.8),(297.2,14.85),(298.0,14.6)]

CAPTION_BOLD = "Figure 9"
CAPTION_1 = ". Average daily temperature at six of the sample sites (one from each region) in each year. Site codes are as given in Table 1."
CAPTION_2 = "Note some data series are incomplete."

PANELS = [
    ("2009-2010", {"PSSB": [PSSB_09], "CCTW": [CCTW_09], "SYLR": [SYLR_09], "JBMW": [JBMW_09],
                   "NRBW": [NRBW_09], "MEBB": [MEBB_09A, MEBB_09B]}),
    ("2010-2011", {"PSSB": [PSSB_10], "CCTW": [CCTW_10], "SYLR": [SYLR_10], "JBMW": [JBMW_10],
                   "NRBW": [NRBW_10], "MEBB": [MEBB_10]}),
]


def build_frame(series_map):
    rows = []
    for name in SERIES:
        for i, pts in enumerate(series_map.get(name, [])):
            for d, t in pts:
                rows.append({"series": name, "seg": f"{name}-{i}", "day": d, "temp": t})
    return pd.DataFrame(rows)


GRAY = "#898989"
FONT = "Lato"
SERIF = "Liberation Serif"
LINE_W = 6
TICKS = [i * DAYS_PER_TICK for i in range(len(MONTHS))]
LABEL_EXPR = f"{json.dumps(MONTHS)}[round(datum.value / {DAYS_PER_TICK})]"
COLOR_SCALE = alt.Scale(domain=SERIES, range=COLORS)
DASH_SCALE = alt.Scale(domain=SERIES, range=DASHES)


def x_axis(show_labels):
    return alt.Axis(
        values=TICKS, labelExpr=LABEL_EXPR, labels=show_labels, title=None, grid=False,
        domainColor=GRAY, domainWidth=2, tickColor=GRAY, tickWidth=2, tickSize=11,
        labelFont=FONT, labelFontSize=30, labelColor="black", labelPadding=22,
        labelFlush=False, labelOverlap=False,
    )


def y_axis():
    return alt.Axis(
        values=Y_TICKS, title="Temperature (C)", grid=False,
        domainColor=GRAY, domainWidth=2, tickColor=GRAY, tickWidth=2, tickSize=10,
        labelFont=FONT, labelFontSize=30, labelColor="black", labelPadding=24,
        labelFlush=False, labelOverlap=False,
        titleFont=FONT, titleFontSize=37, titleFontWeight="bold", titleColor="black",
        titleX=-113, titleY=248, titleBaseline="alphabetic",
    )


def series_layer(df, name, bottom):
    sub = df[df["series"] == name]
    return alt.Chart(sub).mark_line(
        stroke=COLORS[SERIES.index(name)], strokeWidth=LINE_W, strokeCap="round", strokeJoin="round"
    ).encode(
        x=alt.X("day:Q", scale=alt.Scale(domain=[0, X_MAX], nice=False, zero=False), axis=x_axis(bottom)),
        y=alt.Y("temp:Q", scale=alt.Scale(domain=[12, 26], nice=False, zero=False), axis=y_axis()),
        size=alt.value(LINE_W),
        detail="seg:N",
    )


def make_panel(title, series_map, bottom, title_x, title_y):
    df = build_frame(series_map)
    line_layers = [series_layer(df, s, bottom) for s in SERIES[:-1] if s in series_map]
    thr = alt.Chart(pd.DataFrame({"t": [THRESHOLD]})).mark_rule(
        color="black", strokeWidth=6, strokeDash=DASHES[-1], strokeCap="round"
    ).encode(y="t:Q")
    label = alt.Chart(pd.DataFrame({"label": [title]})).mark_text(
        font=FONT, fontSize=43, fontWeight="bold", color="black", align="center", baseline="alphabetic"
    ).encode(x=alt.value(title_x), y=alt.value(title_y), text="label:N")
    main = alt.layer(*line_layers, thr, label)
    if not bottom:
        return main.properties(width=1217, height=497)
    leg = pd.DataFrame({"series": SERIES})
    leg_y = alt.Y("series:N", scale=alt.Scale(type="point", domain=SERIES, range=[13, 253], padding=0), axis=None)
    leg_lines = alt.Chart(leg).mark_rule(strokeWidth=6, strokeCap="round").encode(
        x=alt.value(1047), x2=alt.value(1121), y=leg_y,
        color=alt.Color("series:N", scale=COLOR_SCALE, legend=None),
        strokeDash=alt.StrokeDash("series:N", scale=DASH_SCALE, legend=None),
    )
    leg_text = alt.Chart(leg).mark_text(
        font=FONT, fontSize=25, color="black", align="left", baseline="middle"
    ).encode(x=alt.value(1132), y=leg_y, text="series:N")
    one = pd.DataFrame({"k": [0]})
    border_top = alt.Chart(one).mark_rule(color="black", strokeWidth=2).encode(
        x=alt.value(-194), x2=alt.value(1290), y=alt.value(-592))
    border_left = alt.Chart(one).mark_rule(color="black", strokeWidth=2).encode(
        x=alt.value(-194), y=alt.value(-593), y2=alt.value(628))
    cap_b = alt.Chart(one).mark_text(
        font=SERIF, fontSize=26.8, fontWeight="bold", color="black", align="left", baseline="alphabetic"
    ).encode(x=alt.value(-175), y=alt.value(597), text=alt.value(CAPTION_BOLD))
    cap_1 = alt.Chart(one).mark_text(
        font=SERIF, fontSize=26.8, color="black", align="left", baseline="alphabetic"
    ).encode(x=alt.value(-79), y=alt.value(597), text=alt.value(CAPTION_1))
    cap_2 = alt.Chart(one).mark_text(
        font=SERIF, fontSize=26.8, color="black", align="left", baseline="alphabetic"
    ).encode(x=alt.value(-175), y=alt.value(629), text=alt.value(CAPTION_2))
    legend_layer = alt.layer(leg_lines, leg_text)
    return alt.layer(main, legend_layer, border_top, border_left, cap_b, cap_1, cap_2).resolve_scale(
        y="independent").properties(width=1217, height=497)


top = make_panel(PANELS[0][0], PANELS[0][1], False, 870, 54)
bottom = make_panel(PANELS[1][0], PANELS[1][1], True, 847, 51)

chart = alt.vconcat(top, bottom, spacing=63, bounds="flush", padding=0, background="white").resolve_scale(
    y="independent"
).configure_view(stroke=None)

chart.save("out.html", embed_options={"renderer": "svg", "actions": False})
